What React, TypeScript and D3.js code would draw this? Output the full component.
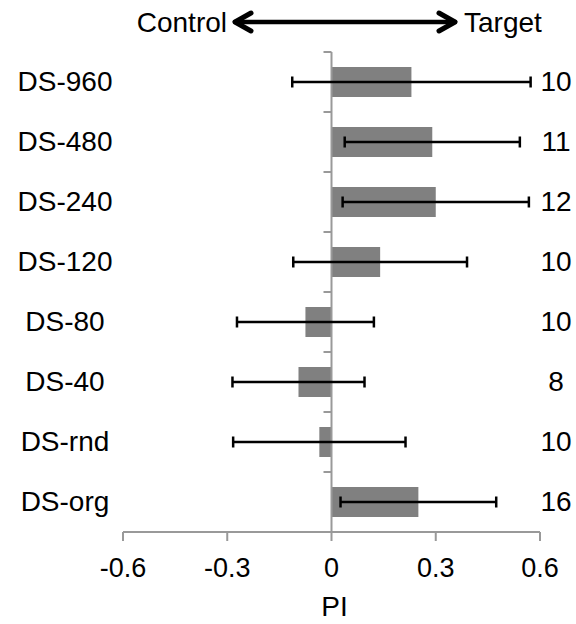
import React from 'react'
import * as d3 from 'd3'

const categories = ['DS-960', 'DS-480', 'DS-240', 'DS-120', 'DS-80', 'DS-40', 'DS-rnd', 'DS-org']
const means = [0.23, 0.29, 0.30, 0.14, -0.075, -0.095, -0.035, 0.25]
const errors = [0.343, 0.252, 0.268, 0.25, 0.197, 0.19, 0.248, 0.224]
const counts = ['10', '11', '12', '10', '10', '8', '10', '16']
const xTicks = [-0.6, -0.3, 0, 0.3, 0.6]

const width = 576
const height = 624
const margin = { top: 52, left: 123, right: 36, bottom: 92 }
const font = 'Liberation Sans, Arial, sans-serif'
const axisColor = '#999'

export default function App() {
  const x = d3.scaleLinear().domain([-0.6, 0.6]).range([margin.left, width - margin.right])
  const y = d3.scaleBand().domain(categories).range([margin.top, height - margin.bottom]).paddingInner(0.5).paddingOuter(0.25)
  const bandStep = y.step()
  const x0 = x(0)
  const yBottom = height - margin.bottom

  // double-headed arrow between the Control / Target labels
  const arrowY = 22
  const ax1 = 233
  const ax2 = 457

  return (
    <svg width={width} height={height} style={{ position: 'absolute', left: 0, top: 0, background: '#fff' }} fontFamily={font}>
      <text x={227} y={arrowY + 10} fontSize={28} textAnchor="end">Control</text>
      <text x={464} y={arrowY + 10} fontSize={28} textAnchor="start">Target</text>
      <g stroke="#000" fill="none" strokeLinecap="round" strokeLinejoin="round">
        <line x1={ax1 + 2} x2={ax2 - 2} y1={arrowY} y2={arrowY} strokeWidth={4.5} />
        <path d={`M${ax1 + 18},${arrowY - 9} L${ax1 + 2},${arrowY} L${ax1 + 18},${arrowY + 9}`} strokeWidth={5} />
        <path d={`M${ax2 - 18},${arrowY - 9} L${ax2 - 2},${arrowY} L${ax2 - 18},${arrowY + 9}`} strokeWidth={5} />
      </g>

      {/* bars */}
      {categories.map((c, i) => {
        const v = means[i]
        return (
          <rect key={c} x={Math.min(x(v), x0)} width={Math.abs(x(v) - x0)} y={y(c)} height={y.bandwidth()} fill="#808080" />
        )
      })}

      {/* vertical axis at 0 */}
      <line x1={x0} x2={x0} y1={margin.top} y2={yBottom} stroke={axisColor} strokeWidth={2} />
      {categories.map((c, i) => {
        const ty = margin.top + i * bandStep
        return <line key={'t' + c} x1={x0 - 8} x2={x0} y1={ty} y2={ty} stroke={axisColor} strokeWidth={2} />
      })}

      {/* error bars */}
      {categories.map((c, i) => {
        const cy = (y(c) as number) + y.bandwidth() / 2
        const lo = x(means[i] - errors[i])
        const hi = x(means[i] + errors[i])
        return (
          <g key={'e' + c} stroke="#000" strokeWidth={2.5}>
            <line x1={lo} x2={hi} y1={cy} y2={cy} />
            <line x1={lo} x2={lo} y1={cy - 5.5} y2={cy + 5.5} />
            <line x1={hi} x2={hi} y1={cy - 5.5} y2={cy + 5.5} />
          </g>
        )
      })}

      {/* category labels and counts */}
      {categories.map((c, i) => {
        const cy = (y(c) as number) + y.bandwidth() / 2
        return (
          <g key={'l' + c} fontSize={28} fill="#000">
            <text x={65} y={cy + 9} textAnchor="middle">{c}</text>
            <text x={556} y={cy + 9} textAnchor="middle">{counts[i]}</text>
          </g>
        )
      })}

      {/* bottom axis */}
      <line x1={x(-0.6)} x2={x(0.6)} y1={yBottom} y2={yBottom} stroke={axisColor} strokeWidth={2} />
      {xTicks.map(t => (
        <g key={'x' + t}>
          <line x1={x(t)} x2={x(t)} y1={yBottom} y2={yBottom + 9} stroke={axisColor} strokeWidth={2} />
          <text x={x(t)} y={yBottom + 45} fontSize={27} textAnchor="middle">{t === 0 ? '0' : String(t)}</text>
        </g>
      ))}
      <text x={x0 + 3} y={yBottom + 84} fontSize={28} textAnchor="middle">PI</text>
    </svg>
  )
}
